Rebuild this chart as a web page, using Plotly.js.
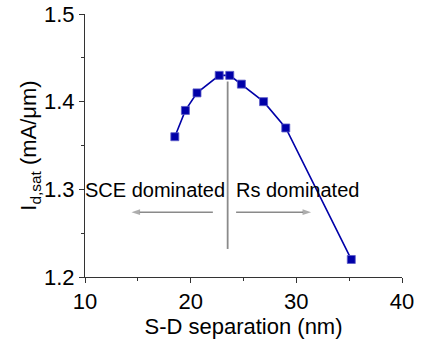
<!DOCTYPE html>
<html>
<head>
<meta charset="utf-8">
<script src="https://cdn.plot.ly/plotly-3.0.1.min.js"></script>
<style>html,body{margin:0;padding:0;background:#fff;}#chart{width:435px;height:339px;}</style>
</head>
<body>
<div id="chart"></div>
<script>
// Data
const separation = [18.5, 19.5, 20.6, 22.7, 23.7, 24.8, 26.9, 29.0, 35.2];
const idsat = [1.36, 1.39, 1.41, 1.43, 1.43, 1.42, 1.40, 1.37, 1.22];
const xTicks = [10, 20, 30, 40];
const yTicks = [1.2, 1.3, 1.4, 1.5];
const regionLabels = ["SCE dominated", "Rs dominated"];
const labelX = [16.6, 30.1];
const labelY = 1.299;
const dividerX = 23.5;
const dividerY = [1.232, 1.423];
const arrowY = 1.274;
const leftArrow = [22.1, 14.4];
const rightArrow = [24.3, 31.4];

const font = "Liberation Sans, Arial, sans-serif";
const grey = "#8a8a8a";

const trace = {
  x: separation, y: idsat, type: "scatter", mode: "lines+markers",
  line: {color: "#0000a8", width: 1.6},
  marker: {symbol: "square", size: 8, color: "#0000a8", line: {color: "#5a5ac8", width: 0.8}},
  showlegend: false, cliponaxis: false
};

function arrowTrace(xs) {
  return {
    x: xs, y: [arrowY, arrowY], type: "scatter", mode: "lines+markers",
    line: {color: grey, width: 1.5},
    marker: {symbol: "arrow", angleref: "previous", size: [0, 9], color: grey, line: {width: 0}},
    showlegend: false, hoverinfo: "skip"
  };
}

const annotations = [
  {x: labelX[0], y: labelY, xref: "x", yref: "y", text: regionLabels[0], showarrow: false, font: {family: font, size: 20, color: "#000"}},
  {x: labelX[1], y: labelY, xref: "x", yref: "y", text: regionLabels[1], showarrow: false, font: {family: font, size: 20, color: "#000"}}
];

const shapes = [
  {type: "line", xref: "x", yref: "y", x0: dividerX, x1: dividerX, y0: dividerY[0], y1: dividerY[1], line: {color: grey, width: 1.8}}
];

const layout = {
  width: 435, height: 339,
  margin: {l: 85, r: 33, t: 14, b: 62},
  paper_bgcolor: "#fff", plot_bgcolor: "#fff",
  font: {family: font, size: 22, color: "#000"},
  xaxis: {
    range: [10, 40], tickvals: xTicks, ticktext: xTicks.map(String),
    showgrid: false, zeroline: false, showline: true, linecolor: "#333", linewidth: 1,
    ticks: "outside", ticklen: 5, tickcolor: "#333", tickwidth: 1,
    minor: {dtick: 5, ticks: "outside", ticklen: 3, tickcolor: "#333", showgrid: false},
    tickfont: {family: font, size: 22},
    title: {text: "S-D separation (nm)", font: {family: font, size: 22}, standoff: 2}
  },
  yaxis: {
    range: [1.2, 1.5], tickvals: yTicks, ticktext: yTicks.map(v => v.toFixed(1)),
    showgrid: false, zeroline: false, showline: true, linecolor: "#333", linewidth: 1,
    ticks: "outside", ticklen: 5, tickcolor: "#333", tickwidth: 1,
    minor: {dtick: 0.05, ticks: "outside", ticklen: 3, tickcolor: "#333", showgrid: false},
    tickfont: {family: font, size: 22},
    title: {text: "I<sub>d,sat</sub> (mA/μm)", font: {family: font, size: 22}, standoff: 0}
  },
  annotations: annotations,
  shapes: shapes
};

Plotly.newPlot("chart", [trace, arrowTrace(leftArrow), arrowTrace(rightArrow)], layout, {staticPlot: true, displayModeBar: false});
</script>
</body>
</html>
